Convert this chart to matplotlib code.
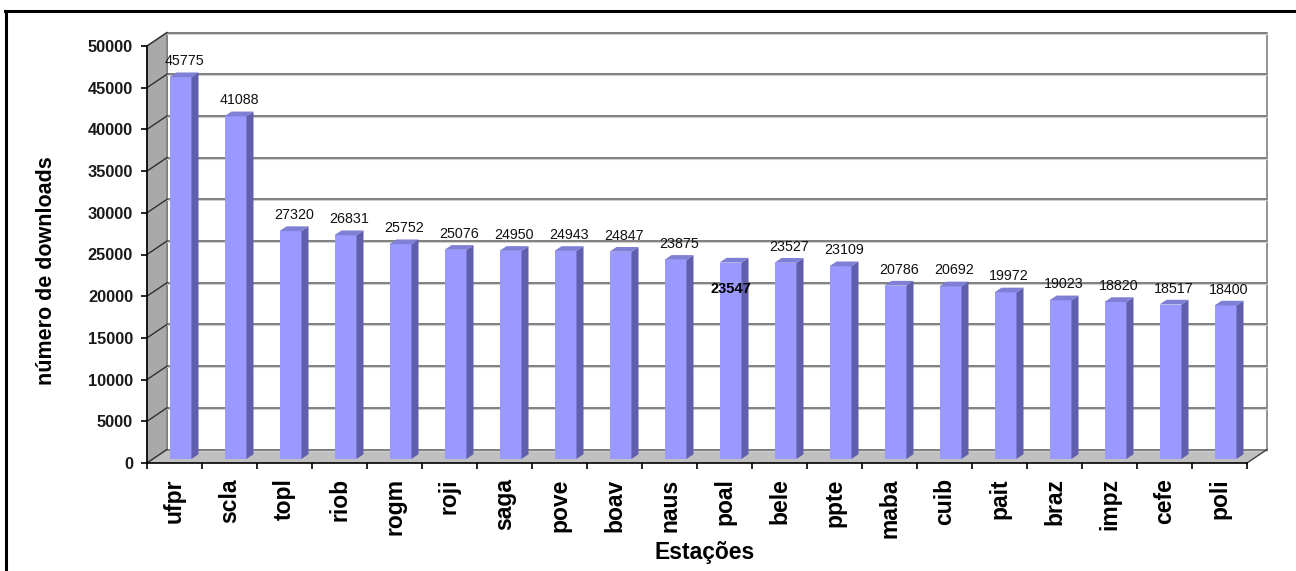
import matplotlib
matplotlib.use("Agg")
import matplotlib.pyplot as plt
from matplotlib.patches import Polygon, Rectangle
from matplotlib.lines import Line2D

# ---------------- data ----------------
stations = ["ufpr", "scla", "topl", "riob", "rogm", "roji", "saga", "pove", "boav", "naus",
            "poal", "bele", "ppte", "maba", "cuib", "pait", "braz", "impz", "cefe", "poli"]
downloads = [45775, 41088, 27320, 26831, 25752, 25076, 24950, 24943, 24847, 23875,
             23547, 23527, 23109, 20786, 20692, 19972, 19023, 18820, 18517, 18400]
y_ticks = [0, 5000, 10000, 15000, 20000, 25000, 30000, 35000, 40000, 45000, 50000]
x_title = "Estações"
y_title = "número de downloads"

# ---------------- style ----------------
W, H = 1296, 571
FONT = "Liberation Sans"
plt.rcParams['font.family'] = [FONT, 'DejaVu Sans']
FRONT = "#9999ff"
SIDE = "#5f5fad"
TOP = "#7f7fd6"
FLOOR = "#c0c0c0"
WALL = "#a9a9a9"
GRID = "#808080"

fig = plt.figure(figsize=(W / 100, H / 100), dpi=100)
fig.patch.set_facecolor("white")

# front plane of the 3-D box, in pixels
px_l, px_r, px_b, px_t = 147, 1247, 463, 46
ax = fig.add_axes([px_l / W, 1 - px_b / H, (px_r - px_l) / W, (px_b - px_t) / H])
n = len(stations)
ymax = y_ticks[-1]
ax.set_xlim(0, n)
ax.set_ylim(0, ymax)
ax.patch.set_alpha(0)

# depth offset (px) converted to data units
DXP, DYP = 20, 13.5
ddx = DXP / ((px_r - px_l) / n)
ddy = DYP * ymax / (px_b - px_t)

# side wall
ax.add_patch(Polygon([(0, 0), (0, ymax), (ddx, ymax + ddy), (ddx, ddy)], closed=True,
                     facecolor=WALL, edgecolor="#707070", lw=0.8, clip_on=False, zorder=0.5))
# floor
ax.add_patch(Polygon([(0, 0), (n, 0), (n + ddx, ddy), (ddx, ddy)], closed=True,
                     facecolor=FLOOR, edgecolor="none", clip_on=False, zorder=0.5))
# back wall
ax.add_patch(Rectangle((ddx, ddy), n, ymax, facecolor="white", edgecolor=GRID, lw=1.2,
                       clip_on=False, zorder=0.4))
# gridlines on back wall and side wall
for v in y_ticks:
    ax.plot([ddx, n + ddx], [v + ddy, v + ddy], color=GRID, lw=1.4, clip_on=False, zorder=0.6,
            solid_capstyle="butt")
    ax.plot([ddx, n + ddx], [v + ddy - 120, v + ddy - 120], color="#d0d0d0", lw=0.8,
            clip_on=False, zorder=0.55)
    ax.plot([0, ddx], [v, v + ddy], color="#303030", lw=1.0, clip_on=False, zorder=0.7)
# floor right edge
ax.plot([n, n + ddx], [0, ddy], color="#404040", lw=1.0, clip_on=False, zorder=0.7)

# bars (3-D look)
f1, f2 = 0.30, 0.65
bw = 0.40
xs = [i + 0.5 + f1 * ddx for i in range(n)]
b0 = f1 * ddy
ax.bar(xs, downloads, width=bw, bottom=b0, color=FRONT, edgecolor="none", zorder=2)
sx = (f2 - f1) * ddx
sy = (f2 - f1) * ddy
for x, v in zip(xs, downloads):
    xl, xr = x - bw / 2, x + bw / 2
    top = b0 + v
    ax.add_patch(Polygon([(xr, b0), (xr, top), (xr + sx, top + sy), (xr + sx, b0 + sy)],
                         closed=True, facecolor=SIDE, edgecolor="none", zorder=2, clip_on=False))
    ax.add_patch(Polygon([(xl, top), (xr, top), (xr + sx, top + sy), (xl + sx, top + sy)],
                         closed=True, facecolor=TOP, edgecolor="none", zorder=2, clip_on=False))

# value labels
special = {"poal": -26}
for name, x, v in zip(stations, xs, downloads):
    if name in special:
        ax.annotate(f"{v}", (x, b0 + v), xytext=(0, special[name] / 1.389 * 1.0),
                    textcoords="offset points", ha="center", va="center", fontsize=10.5,
                    fontweight="bold", color="black", zorder=5, annotation_clip=False)
    else:
        ax.annotate(f"{v}", (x + sx / 2, b0 + v + sy), xytext=(0, 3), textcoords="offset points",
                    ha="center", va="bottom", fontsize=10.3, color="#111111", zorder=5,
                    annotation_clip=False)

# axes / ticks
for s in ["top", "right"]:
    ax.spines[s].set_visible(False)
ax.spines["left"].set_color("black")
ax.spines["bottom"].set_color("black")
ax.spines["left"].set_linewidth(1.2)
ax.spines["bottom"].set_linewidth(1.2)
ax.spines["left"].set_zorder(3)
ax.spines["bottom"].set_zorder(3)

ax.set_yticks(y_ticks)
ax.set_yticklabels([str(t) for t in y_ticks], fontsize=11.8, fontweight="bold", color="#1a1a1a")
ax.tick_params(axis="y", direction="out", length=4, width=1.2, pad=6)

ax.set_xticks(range(n + 1))
ax.set_xticklabels([])
ax.tick_params(axis="x", which="major", direction="out", length=4, width=1.2)
ax.set_xticks([i + 0.5 for i in range(n)], minor=True)
ax.set_xticklabels(stations, minor=True, rotation=90, fontsize=16.5, fontweight="bold",
                   va="top", ha="center")
ax.tick_params(axis="x", which="minor", length=0, pad=11)

fig.text(705 / W, 1 - 553 / H, x_title, ha="center", va="center", fontsize=16.5,
         fontweight="bold")
fig.text(47 / W, 1 - 271 / H, y_title, ha="center", va="center", rotation=90,
         fontsize=15.5, fontweight="bold")

# outer frame (top and left visible)
fig.add_artist(Line2D([5 / W, 1], [1 - 10.5 / H, 1 - 10.5 / H], transform=fig.transFigure,
                      color="black", lw=2.2))
fig.add_artist(Line2D([6 / W, 6 / W], [1 - 10.5 / H, 0], transform=fig.transFigure,
                      color="black", lw=2.2))

fig.savefig("out.png", dpi=100)
